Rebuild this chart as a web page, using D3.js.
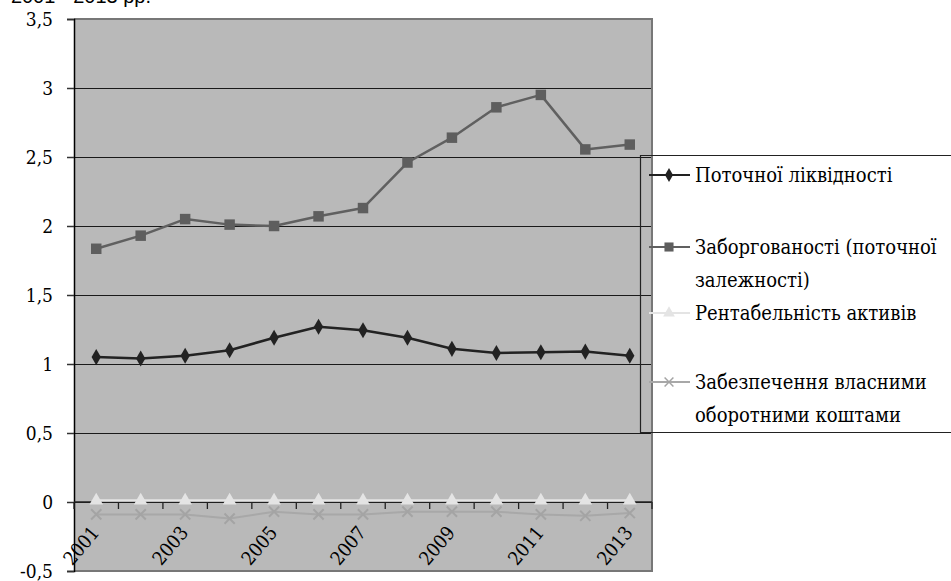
<!DOCTYPE html>
<html>
<head>
<meta charset="utf-8">
<script src="https://cdn.jsdelivr.net/npm/d3@7"></script>
<style>
  html, body { margin: 0; padding: 0; background: #fff; }
  svg { display: block; }
</style>
</head>
<body>
<svg id="chart" width="951" height="581"></svg>
<script>
// Indicators by year
const years = ["2001","2002","2003","2004","2005","2006","2007","2008","2009","2010","2011","2012","2013"];
const currentLiquidity = [1.05, 1.04, 1.06, 1.10, 1.19, 1.27, 1.245, 1.19, 1.11, 1.08, 1.085, 1.09, 1.06];
const debtRatio = [1.835, 1.93, 2.05, 2.01, 2.00, 2.07, 2.13, 2.46, 2.64, 2.86, 2.95, 2.555, 2.59];
const returnOnAssets = [0.01, 0.01, 0.01, 0.01, 0.01, 0.01, 0.01, 0.01, 0.01, 0.01, 0.01, 0.01, 0.01];
const ownWorkingCapital = [-0.09, -0.09, -0.09, -0.12, -0.07, -0.09, -0.09, -0.07, -0.07, -0.07, -0.09, -0.10, -0.08];
const yTicks = [-0.5, 0, 0.5, 1, 1.5, 2, 2.5, 3, 3.5];
const yTickLabels = ["-0,5", "0", "0,5", "1", "1,5", "2", "2,5", "3", "3,5"];
const seriesNames = [
  ["Поточної ліквідності"],
  ["Заборгованості (поточної", "залежності)"],
  ["Рентабельність активів"],
  ["Забезпечення власними", "оборотними коштами"]
];

const SERIF = "'DejaVu Serif Condensed', 'DejaVu Serif', serif";

const svg = d3.select("#chart");
const plot = { left: 74, right: 652, top: 19, bottom: 571 };

const x = d3.scaleBand().domain(years).range([plot.left, plot.right]);
const y = d3.scaleLinear().domain([-0.5, 3.5]).range([plot.bottom, plot.top]);

// heading running off the top edge
svg.append("text")
  .attr("x", 151).attr("y", 3)
  .attr("text-anchor", "end")
  .attr("font-family", "'Liberation Sans', Arial, sans-serif")
  .attr("font-size", 20)
  .text("2001 - 2013 рр.");

// plot background
svg.append("rect")
  .attr("x", plot.left).attr("y", plot.top)
  .attr("width", plot.right - plot.left).attr("height", plot.bottom - plot.top)
  .attr("fill", "#b9b9b9");

// gridlines
svg.append("g").selectAll("line")
  .data(yTicks.filter(v => v > -0.5 && v < 3.5))
  .join("line")
  .attr("x1", plot.left).attr("x2", plot.right)
  .attr("y1", d => Math.round(y(d)) + 0.5).attr("y2", d => Math.round(y(d)) + 0.5)
  .attr("stroke", "#1a1a1a").attr("stroke-width", 1.2);

// plot frame (top, right, bottom)
svg.append("path")
  .attr("d", `M${plot.left},${plot.top} H${plot.right} V${plot.bottom} H${plot.left}`)
  .attr("fill", "none").attr("stroke", "#777").attr("stroke-width", 2);

// y axis
const yAxis = d3.axisLeft(y).tickValues(yTicks)
  .tickFormat((d, i) => yTickLabels[i]).tickSize(7).tickPadding(14);
const gy = svg.append("g").attr("transform", `translate(${plot.left},0)`).call(yAxis)
  .attr("font-family", SERIF).attr("font-size", 19);
gy.select(".domain").attr("stroke", "#000").attr("stroke-width", 1.5);
gy.selectAll(".tick line").attr("stroke", "#333").attr("stroke-width", 1.5);
gy.selectAll(".tick text").attr("fill", "#000");

// category axis at zero
const gx = svg.append("g").attr("transform", `translate(0,${y(0)})`)
  .attr("font-family", SERIF).attr("font-size", 19);
gx.append("line")
  .attr("x1", plot.left).attr("x2", plot.right)
  .attr("stroke", "#222").attr("stroke-width", 1.5);
gx.selectAll("line.tk")
  .data(d3.range(years.length + 1))
  .join("line").attr("class", "tk")
  .attr("x1", i => plot.left + i * x.step()).attr("x2", i => plot.left + i * x.step())
  .attr("y1", 0).attr("y2", 7)
  .attr("stroke", "#222").attr("stroke-width", 1.3);
gx.selectAll("text")
  .data(years.filter((d, i) => i % 2 === 0))
  .join("text")
  .attr("transform", d => `translate(${x(d) + x.bandwidth() / 2 - 1},${27}) rotate(-50)`)
  .attr("text-anchor", "end")
  .attr("dy", "0.35em")
  .attr("fill", "#000")
  .text(d => d);

// series
const line = d3.line().x((d, i) => x(years[i]) + x.bandwidth() / 2).y(d => y(d));
const series = [
  { values: currentLiquidity, color: "#222222", width: 2.5, marker: d3.symbolDiamond, size: 75, mcolor: "#222222" },
  { values: debtRatio, color: "#606060", width: 2.5, marker: d3.symbolSquare, size: 110, mcolor: "#5e5e5e" },
  { values: returnOnAssets, color: "#e4e4e4", width: 2.5, marker: d3.symbolTriangle, size: 80, mcolor: "#e4e4e4" },
  { values: ownWorkingCapital, color: "#a8a8a8", width: 2, marker: d3.symbolX, size: 70, mcolor: "#a4a4a4" }
];

// lower series drawn first
[3, 2, 0, 1].forEach(k => {
  const s = series[k];
  const g = svg.append("g");
  g.append("path").attr("d", line(s.values))
    .attr("fill", "none").attr("stroke", s.color).attr("stroke-width", s.width)
    .attr("stroke-linejoin", "round");
  g.selectAll("path.m").data(s.values).join("path").attr("class", "m")
    .attr("transform", (d, i) => `translate(${x(years[i]) + x.bandwidth() / 2},${y(d)})`)
    .attr("d", d3.symbol(s.marker, s.size))
    .attr("fill", s.marker === d3.symbolX ? "none" : s.mcolor)
    .attr("stroke", s.marker === d3.symbolX ? s.mcolor : "none")
    .attr("stroke-width", 2);
});

// legend frame
const legend = { left: 640, top: 155, bottom: 432 };
svg.append("path")
  .attr("d", `M951,${legend.top + 0.5} H${legend.left + 0.5} V${legend.bottom + 0.5} H951`)
  .attr("fill", "none").attr("stroke", "#222").attr("stroke-width", 1.2);

const legendRows = [175, 247, 313, 382];
legendRows.forEach((ly, k) => {
  const s = series[k];
  const g = svg.append("g").attr("font-family", SERIF).attr("font-size", 20);
  g.append("line").attr("x1", 649).attr("x2", 690).attr("y1", ly).attr("y2", ly)
    .attr("stroke", s.color).attr("stroke-width", 2);
  g.append("path").attr("transform", `translate(669,${ly})`)
    .attr("d", d3.symbol(s.marker, s.size * 0.75))
    .attr("fill", s.marker === d3.symbolX ? "none" : s.mcolor)
    .attr("stroke", s.marker === d3.symbolX ? s.mcolor : "none")
    .attr("stroke-width", 1.5);
  seriesNames[k].forEach((t, j) => {
    g.append("text").attr("x", 695).attr("y", ly + j * 33).attr("dy", "0.35em")
      .attr("fill", "#000").text(t);
  });
});
</script>
</body>
</html>
